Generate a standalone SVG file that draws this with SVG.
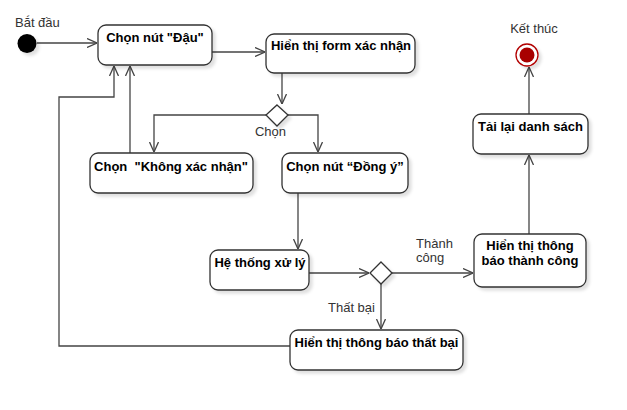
<svg xmlns="http://www.w3.org/2000/svg" width="627" height="410" viewBox="0 0 627 410">
<defs>
<style>
.box{fill:#fff;stroke:#333;stroke-width:1.3;filter:url(#sh)}
.t{font-family:"Liberation Sans",Arial,sans-serif;font-size:13px;font-weight:bold;fill:#000;text-anchor:middle}
.l{font-family:"Liberation Sans",Arial,sans-serif;font-size:13px;fill:#333}
.c{fill:none;stroke:#444;stroke-width:1.3;marker-end:url(#ar)}
.dm{fill:#fff;stroke:#333;stroke-width:1.3;filter:url(#sh)}
</style>
<filter id="sh" x="-20%" y="-20%" width="150%" height="160%">
<feDropShadow dx="3" dy="3" stdDeviation="1.5" flood-color="#000" flood-opacity="0.12"/>
</filter>
<marker id="ar" viewBox="0 0 10 10" refX="10" refY="5" markerWidth="10" markerHeight="10" orient="auto" markerUnits="userSpaceOnUse">
<path d="M0,0.5 L10,5 L0,9.5" fill="none" stroke="#444" stroke-width="1.3"/>
</marker>
</defs>
<rect width="627" height="410" fill="#fff"/>

<g id="connectors">
<path class="c" d="M37,43 H97"/>
<path class="c" d="M212,52 H265"/>
<path class="c" d="M282,73 V104"/>
<path class="c" d="M266,115 H154 V152"/>
<path class="c" d="M288,115 H318 V152"/>
<path class="c" d="M130,153 V66"/>
<path class="c" d="M290,346 H59 V97 H114 V66"/>
<path class="c" d="M298,193 V249"/>
<path class="c" d="M309,273 H369"/>
<path class="c" d="M392,273 H473"/>
<path class="c" d="M381,284 V329"/>
<path class="c" d="M529,234 V155"/>
<path class="c" d="M529,114 V67"/>
<text class="l" x="270.5" y="136" text-anchor="middle">Chọn</text>
<text class="l" x="416" y="248">Thành</text>
<text class="l" x="416" y="262">công</text>
<text class="l" x="328" y="312">Thất bại</text>
</g>

<g id="start">
<circle cx="27" cy="43.5" r="9.5" fill="#000" filter="url(#sh)"/>
<text class="l" x="15" y="27">Bắt đầu</text>
</g>

<g id="end">
<circle cx="527" cy="55" r="11" fill="#fff" stroke="#b20000" stroke-width="1.3" filter="url(#sh)"/>
<circle cx="527" cy="55" r="7.5" fill="#a80000"/>
<text class="l" x="534" y="33" text-anchor="middle">Kết thúc</text>
</g>

<g id="n1">
<rect class="box" x="98" y="25" width="114" height="40" rx="8"/>
<text class="t" x="155" y="42">Chọn nút "Đậu"</text>
</g>

<g id="n2">
<rect class="box" x="266" y="34" width="149" height="39" rx="8"/>
<text class="t" x="341" y="50">Hiển thị form xác nhận</text>
</g>

<g id="d1">
<path class="dm" d="M277,105 L288,115 L277,126 L266,115 Z"/>
</g>

<g id="n3">
<rect class="box" x="90" y="153" width="163" height="40" rx="8"/>
<text class="t" x="171" y="171" xml:space="preserve">Chọn  "Không xác nhận"</text>
</g>

<g id="n4">
<rect class="box" x="282" y="153" width="126" height="40" rx="8"/>
<text class="t" x="345" y="171">Chọn nút “Đồng ý”</text>
</g>

<g id="n5">
<rect class="box" x="210" y="250" width="99" height="40" rx="8"/>
<text class="t" x="260" y="267">Hệ thống xử lý</text>
</g>

<g id="d2">
<path class="dm" d="M381,262 L392,273 L381,284 L370,273 Z"/>
</g>

<g id="n6">
<rect class="box" x="474" y="234" width="112" height="53" rx="8"/>
<text class="t" x="530" y="250">Hiển thị thông</text>
<text class="t" x="530" y="265">báo thành công</text>
</g>

<g id="n7">
<rect class="box" x="290" y="330" width="173" height="40" rx="8"/>
<text class="t" x="376.5" y="347">Hiển thị thông báo thất bại</text>
</g>

<g id="n8">
<rect class="box" x="473" y="114" width="115" height="40" rx="8"/>
<text class="t" x="530.5" y="131">Tải lại danh sách</text>
</g>
</svg>
